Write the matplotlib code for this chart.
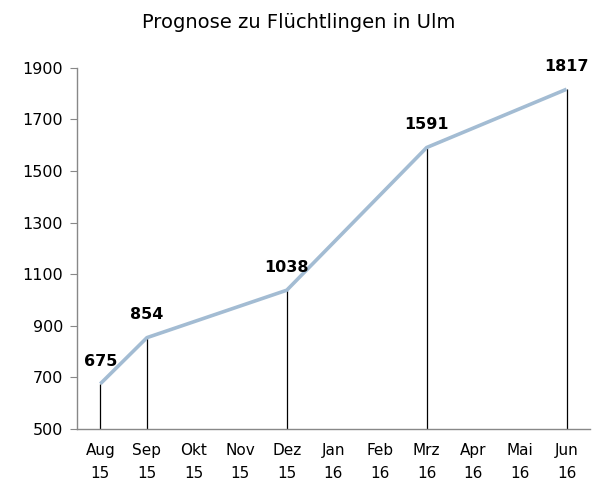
import numpy as np
import matplotlib.pyplot as plt

months = ["Aug\n15", "Sep\n15", "Okt\n15", "Nov\n15", "Dez\n15", "Jan\n16",
          "Feb\n16", "Mrz\n16", "Apr\n16", "Mai\n16", "Jun\n16"]
values = [675, 854, None, None, 1038, None, None, 1591, None, None, 1817]
yticks = [500, 700, 900, 1100, 1300, 1500, 1700, 1900]

fig = plt.figure(figsize=(5.97, 4.88), dpi=100)
ax = fig.add_axes([0.129, 0.121, 0.859, 0.740])

xs = np.array([i for i, v in enumerate(values) if v is not None])
ys = np.array([v for v in values if v is not None])

ax.plot(xs, ys, color="#a3bcd3", linewidth=2.6, solid_capstyle="butt", zorder=3)
ax.vlines(xs, 500, ys, color="black", linewidth=0.9, zorder=2)
for x, y in zip(xs, ys):
    ax.annotate(str(y), (x, y), xytext=(0, 11), textcoords="offset points",
                ha="center", va="bottom", fontsize=11.5, fontweight="bold")

ax.set_xlim(-0.5, 10.5)
ax.set_ylim(500, 1900)
ax.set_yticks(yticks)
ax.set_xticks(range(len(months)))
ax.set_xticklabels(months, fontsize=11, linespacing=1.65)
ax.tick_params(axis="y", labelsize=11.5, length=5, color="#888888", pad=5)
ax.tick_params(axis="x", length=0, pad=10)

for s in ["top", "right"]:
    ax.spines[s].set_visible(False)
for s in ["left", "bottom"]:
    ax.spines[s].set_color("#888888")
    ax.spines[s].set_linewidth(1)

fig.text(0.5, 0.953, "Prognose zu Flüchtlingen in Ulm", ha="center", va="center", fontsize=14)

fig.savefig("out.png", dpi=100)
